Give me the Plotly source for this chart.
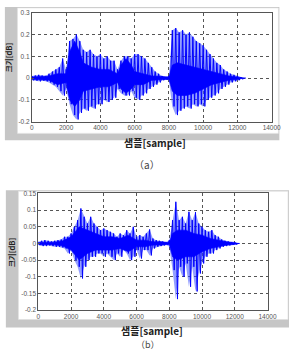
import plotly.graph_objects as go

W, H = 298, 353

# ---------------- data ----------------
samples_a = list(range(0, 12401, 200))
upper_a = [0.01, 0.012, 0.015, 0.012, 0.01, 0.02, 0.03, 0.04, 0.05, 0.09,
           0.04, 0.17, 0.18, 0.2, 0.17, 0.13, 0.12, 0.13, 0.11, 0.1,
           0.11, 0.09, 0.1, 0.08, 0.08, 0.04, 0.08, 0.1, 0.1, 0.09,
           0.11, 0.11, 0.1, 0.09, 0.07, 0.05, 0.03, 0.02, 0.01, 0.005,
           0.01, 0.22, 0.23, 0.21, 0.22, 0.2, 0.21, 0.19, 0.17, 0.16,
           0.15, 0.13, 0.11, 0.09, 0.07, 0.06, 0.04, 0.03, 0.02, 0.015,
           0.01, 0.005, 0.0]
lower_a = [-0.01, -0.012, -0.015, -0.012, -0.015, -0.02, -0.03, -0.04, -0.06, -0.08,
           -0.05, -0.12, -0.17, -0.19, -0.16, -0.14, -0.15, -0.13, -0.14, -0.12,
           -0.12, -0.1, -0.11, -0.1, -0.09, -0.05, -0.07, -0.08, -0.08, -0.06,
           -0.09, -0.1, -0.08, -0.07, -0.05, -0.04, -0.03, -0.02, -0.01, -0.008,
           -0.01, -0.13, -0.17, -0.15, -0.14, -0.13, -0.14, -0.12, -0.13, -0.12,
           -0.13, -0.1, -0.09, -0.08, -0.07, -0.05, -0.04, -0.03, -0.02, -0.015,
           -0.01, -0.005, 0.0]
core_x_a = [0, 500, 1000, 1500, 2000, 2200, 2500, 2800, 3000, 3500, 4000, 4500, 5000, 5200, 5500,
            5800, 6000, 6500, 7000, 7500, 8000, 8200, 8500, 9000, 9500, 10000, 10500, 11000, 11500, 12000, 12400]
core_up_a = [0.005, 0.008, 0.01, 0.02, 0.02, 0.12, 0.17, 0.12, 0.07, 0.05, 0.04, 0.04, 0.02, 0.06, 0.09,
             0.06, 0.03, 0.02, 0.01, 0.008, 0.005, 0.06, 0.07, 0.06, 0.05, 0.04, 0.03, 0.02, 0.01, 0.005, 0.0]
core_low_a = [-0.005, -0.008, -0.01, -0.03, -0.02, -0.1, -0.13, -0.1, -0.06, -0.05, -0.04, -0.04, -0.02, -0.05, -0.07,
              -0.05, -0.03, -0.03, -0.01, -0.008, -0.005, -0.06, -0.08, -0.08, -0.07, -0.05, -0.03, -0.02, -0.01, -0.005, 0.0]

samples_b = list(range(0, 12201, 200))
upper_b = [0.005, 0.008, 0.01, 0.008, 0.006, 0.008, 0.01, 0.012, 0.02, 0.02,
           0.03, 0.05, 0.07, 0.105, 0.08, 0.06, 0.08, 0.06, 0.05, 0.04,
           0.045, 0.04, 0.035, 0.03, 0.02, 0.03, 0.025, 0.04, 0.03, 0.05,
           0.02, 0.025, 0.02, 0.03, 0.042, 0.015, 0.01, 0.008, 0.006, 0.003,
           0.01, 0.07, 0.125, 0.07, 0.08, 0.06, 0.095, 0.07, 0.094, 0.06,
           0.05, 0.04, 0.035, 0.04, 0.025, 0.02, 0.012, 0.008, 0.006, 0.004,
           0.003, 0.0]
lower_b = [-0.005, -0.008, -0.008, -0.006, -0.008, -0.01, -0.01, -0.012, -0.015, -0.03,
           -0.02, -0.05, -0.07, -0.105, -0.07, -0.05, -0.04, -0.04, -0.03, -0.03,
           -0.04, -0.03, -0.04, -0.05, -0.03, -0.04, -0.02, -0.03, -0.05, -0.04,
           -0.02, -0.045, -0.02, -0.02, -0.036, -0.015, -0.01, -0.008, -0.006, -0.003,
           -0.01, -0.08, -0.167, -0.07, -0.1, -0.06, -0.13, -0.07, -0.144, -0.09,
           -0.06, -0.04, -0.03, -0.03, -0.02, -0.015, -0.01, -0.008, -0.006, -0.004,
           -0.003, 0.0]
core_x_b = [0, 500, 1000, 1500, 2000, 2500, 3000, 3500, 4000, 4500, 5000, 5500, 6000, 6500,
            7000, 7500, 8000, 8200, 8500, 9000, 9500, 10000, 10500, 11000, 11500, 12000, 12200]
core_up_b = [0.003, 0.004, 0.004, 0.008, 0.02, 0.05, 0.04, 0.03, 0.02, 0.02, 0.015, 0.025, 0.01, 0.01,
             0.005, 0.005, 0.003, 0.03, 0.04, 0.04, 0.03, 0.025, 0.015, 0.01, 0.005, 0.003, 0.0]
core_low_b = [-0.003, -0.004, -0.004, -0.008, -0.02, -0.05, -0.03, -0.02, -0.02, -0.02, -0.015, -0.025, -0.01, -0.01,
              -0.005, -0.005, -0.003, -0.04, -0.05, -0.04, -0.04, -0.025, -0.015, -0.01, -0.005, -0.003, 0.0]

x_ticks = [0, 2000, 4000, 6000, 8000, 10000, 12000, 14000]
y_ticks_a = [-0.2, -0.1, 0, 0.1, 0.2, 0.3]
y_tick_text_a = ["-0.2", "-0.1", "0", "0.1", "0.2", "0.3"]
y_ticks_b = [-0.2, -0.15, -0.1, -0.05, 0, 0.05, 0.1, 0.15]
y_tick_text_b = ["-0.2", "-0.15", "-0.1", "-0.05", "0", "0.05", "0.1", "0.15"]
x_title = "샘플[sample]"
y_title = "크기[dB]"
captions = ["（a）", "（b）"]

# ---------------- helpers ----------------
def px(x):
    return x / W

def py(y):
    return 1 - y / H

BLUE = "#0000ff"

def add_wave(fig, xs, up, low, cx, cu, cl, xa, ya, half):
    # light envelope
    fig.add_trace(go.Scatter(x=xs + xs[::-1], y=up + low[::-1], fill="toself",
                             fillcolor="rgba(60,80,255,0.55)", line=dict(width=0),
                             mode="lines", xaxis=xa, yaxis=ya, hoverinfo="skip"))
    # striped spikes
    zx, zy = [], []
    for x, u, l in zip(xs, up, low):
        zx += [x, x + half]
        zy += [u, l]
    fig.add_trace(go.Scatter(x=zx, y=zy, mode="lines", line=dict(color=BLUE, width=1.0),
                             xaxis=xa, yaxis=ya, hoverinfo="skip"))
    # dense core
    fig.add_trace(go.Scatter(x=cx + cx[::-1], y=cu + cl[::-1], fill="toself",
                             fillcolor=BLUE, line=dict(width=0.6, color=BLUE),
                             mode="lines", xaxis=xa, yaxis=ya, hoverinfo="skip"))

fig = go.Figure()
add_wave(fig, samples_a, upper_a, lower_a, core_x_a, core_up_a, core_low_a, "x", "y", 100)
add_wave(fig, samples_b, upper_b, lower_b, core_x_b, core_up_b, core_low_b, "x2", "y2", 100)

tickfont = dict(family="Liberation Sans, Arial, sans-serif", size=6.5, color="#555555")
axis_common = dict(showgrid=True, gridcolor="#555555", griddash="dot", gridwidth=0.7,
                   showline=True, linecolor="#555555", linewidth=0.8, mirror=True,
                   ticks="inside", ticklen=2, tickcolor="#555555", tickfont=tickfont,
                   zeroline=False, fixedrange=True)

fig.update_layout(
    width=W, height=H, margin=dict(l=0, r=0, t=0, b=0),
    paper_bgcolor="white", plot_bgcolor="white", showlegend=False,
    xaxis=dict(domain=[px(31), px(280)], range=[0, 14000], tickvals=x_ticks,
               ticktext=[str(v) for v in x_ticks], anchor="y", **axis_common),
    yaxis=dict(domain=[py(120), py(9)], range=[-0.2, 0.3], tickvals=y_ticks_a,
               ticktext=y_tick_text_a, anchor="x", **axis_common),
    xaxis2=dict(domain=[px(37.7), px(275.7)], range=[0, 14000], tickvals=x_ticks,
                ticktext=[str(v) for v in x_ticks], anchor="y2", **axis_common),
    yaxis2=dict(domain=[py(312.3), py(193.3)], range=[-0.2, 0.15], tickvals=y_ticks_b,
                ticktext=y_tick_text_b, anchor="x2", **axis_common),
)

GRAY = "#c6c6c6"
shapes = [
    # panel a frame
    dict(type="rect", x0=px(3), x1=px(288), y0=py(139), y1=py(3), fillcolor=GRAY, line=dict(width=0)),
    dict(type="rect", x0=px(16), x1=px(287), y0=py(132), y1=py(4), fillcolor="white",
         line=dict(width=0.6, color="#dddddd")),
    # panel b frame
    dict(type="rect", x0=px(4), x1=px(298), y0=py(330), y1=py(190), fillcolor=GRAY, line=dict(width=0)),
    dict(type="rect", x0=px(17), x1=px(297), y0=py(322), y1=py(191), fillcolor="white",
         line=dict(width=0.6, color="#dddddd")),
]
for s in shapes:
    s.update(xref="paper", yref="paper", layer="below")
fig.update_layout(shapes=shapes)

kfont_bold = dict(family="Noto Sans CJK KR", size=10, color="#222222", weight="bold")
kfont_y = dict(family="Noto Sans CJK KR", size=7.5, color="#222222", weight="bold")
cap_font = dict(family="Noto Sans CJK KR", size=10, color="#444444")
cap_font_b = dict(family="Noto Sans CJK KR", size=9, color="#444444")
ann = [
    dict(x=px(159), y=py(141.5), text=x_title, font=kfont_bold),
    dict(x=px(156), y=py(333), text=x_title, font=kfont_bold),
    dict(x=px(7.5), y=py(54), text=y_title, font=kfont_y, textangle=-90),
    dict(x=px(10.5), y=py(253), text=y_title, font=kfont_y, textangle=-90),
    dict(x=px(151), y=py(164), text=captions[0], font=cap_font),
    dict(x=px(152), y=py(347), text=captions[1], font=cap_font_b),
]
for a in ann:
    a.update(xref="paper", yref="paper", showarrow=False, xanchor="center", yanchor="middle")
fig.update_layout(annotations=ann)

fig.write_html("out.html")
